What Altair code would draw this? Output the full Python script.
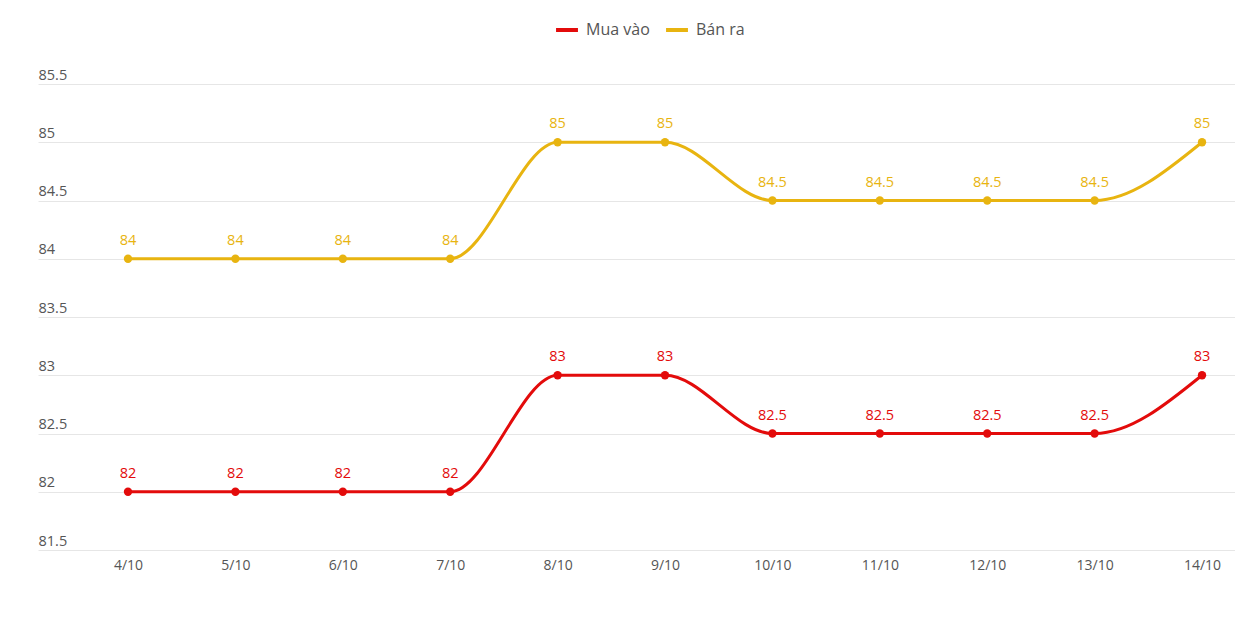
import altair as alt
import pandas as pd

dates = ["4/10", "5/10", "6/10", "7/10", "8/10", "9/10", "10/10", "11/10", "12/10", "13/10", "14/10"]
mua_vao = [82, 82, 82, 82, 83, 83, 82.5, 82.5, 82.5, 82.5, 83]
ban_ra = [84, 84, 84, 84, 85, 85, 84.5, 84.5, 84.5, 84.5, 85]
series_names = ["Mua vào", "Bán ra"]
series_colors = ["#e30b0b", "#e8b410"]
y_ticks = [81.5, 82, 82.5, 83, 83.5, 84, 84.5, 85, 85.5]

rows = []
for i, (d, v) in enumerate(zip(dates, mua_vao)):
    rows.append({"idx": i, "date": d, "value": v, "series": series_names[0], "label": f"{v:g}"})
for i, (d, v) in enumerate(zip(dates, ban_ra)):
    rows.append({"idx": i, "date": d, "value": v, "series": series_names[1], "label": f"{v:g}"})
df = pd.DataFrame(rows)

FONT = "Open Sans"
label_expr = "[" + ",".join(f"'{d}'" for d in dates) + "][datum.value]"

x_enc = alt.X(
    "idx:Q",
    scale=alt.Scale(domain=[-0.838, len(dates) - 1 + 0.307], nice=False, zero=False),
    axis=alt.Axis(
        title=None, domain=False, ticks=False, grid=False,
        values=list(range(len(dates))), labelExpr=label_expr,
        labelFont=FONT, labelFontSize=14, labelColor="#555555",
        labelPadding=8, labelAngle=0, labelFlush=False,
    ),
)
y_enc = alt.Y(
    "value:Q",
    scale=alt.Scale(domain=[81.5, 85.5], nice=False, zero=False),
    axis=alt.Axis(
        title=None, values=y_ticks, format="~g", domain=False, ticks=False, tickSize=0,
        grid=True, gridColor="#e6e6e6", gridWidth=1,
        labelAlign="left", labelBaseline="alphabetic", labelOffset=-5,
        labelPadding=0, labelFont=FONT, labelFontSize=14.5, labelColor="#555555",
    ),
)
color_enc = alt.Color(
    "series:N",
    sort=series_names,
    scale=alt.Scale(domain=series_names, range=series_colors),
    legend=alt.Legend(
        title=None, orient="none", direction="horizontal",
        legendX=516, legendY=-67, columns=2,
        symbolType="stroke", symbolStrokeWidth=4, symbolSize=480,
        labelFont=FONT, labelFontSize=16, labelColor="#555555",
        labelOffset=6, columnPadding=8, symbolOffset=0,
    ),
)

base = alt.Chart(df)
lines = base.mark_line(interpolate="monotone", strokeWidth=3).encode(x=x_enc, y=y_enc, color=color_enc)
points = base.mark_circle(size=70, opacity=1).encode(x=x_enc, y=y_enc, color=color_enc)
labels = base.mark_text(baseline="bottom", dy=-11, font=FONT, fontSize=14.5).encode(
    x=x_enc, y=y_enc, text="label:N",
    color=alt.Color("series:N", sort=series_names,
                    scale=alt.Scale(domain=series_names, range=series_colors), legend=None),
)

chart = (
    alt.layer(lines, points, labels)
    .properties(
        width=1197, height=466,
        autosize=alt.AutoSizeParams(type="none"),
        padding={"left": 38, "top": 84, "right": 0, "bottom": 77},
        background="white",
    )
    .configure_view(stroke=None)
)

chart.save("out.html", embed_options={"renderer": "svg", "actions": False})
